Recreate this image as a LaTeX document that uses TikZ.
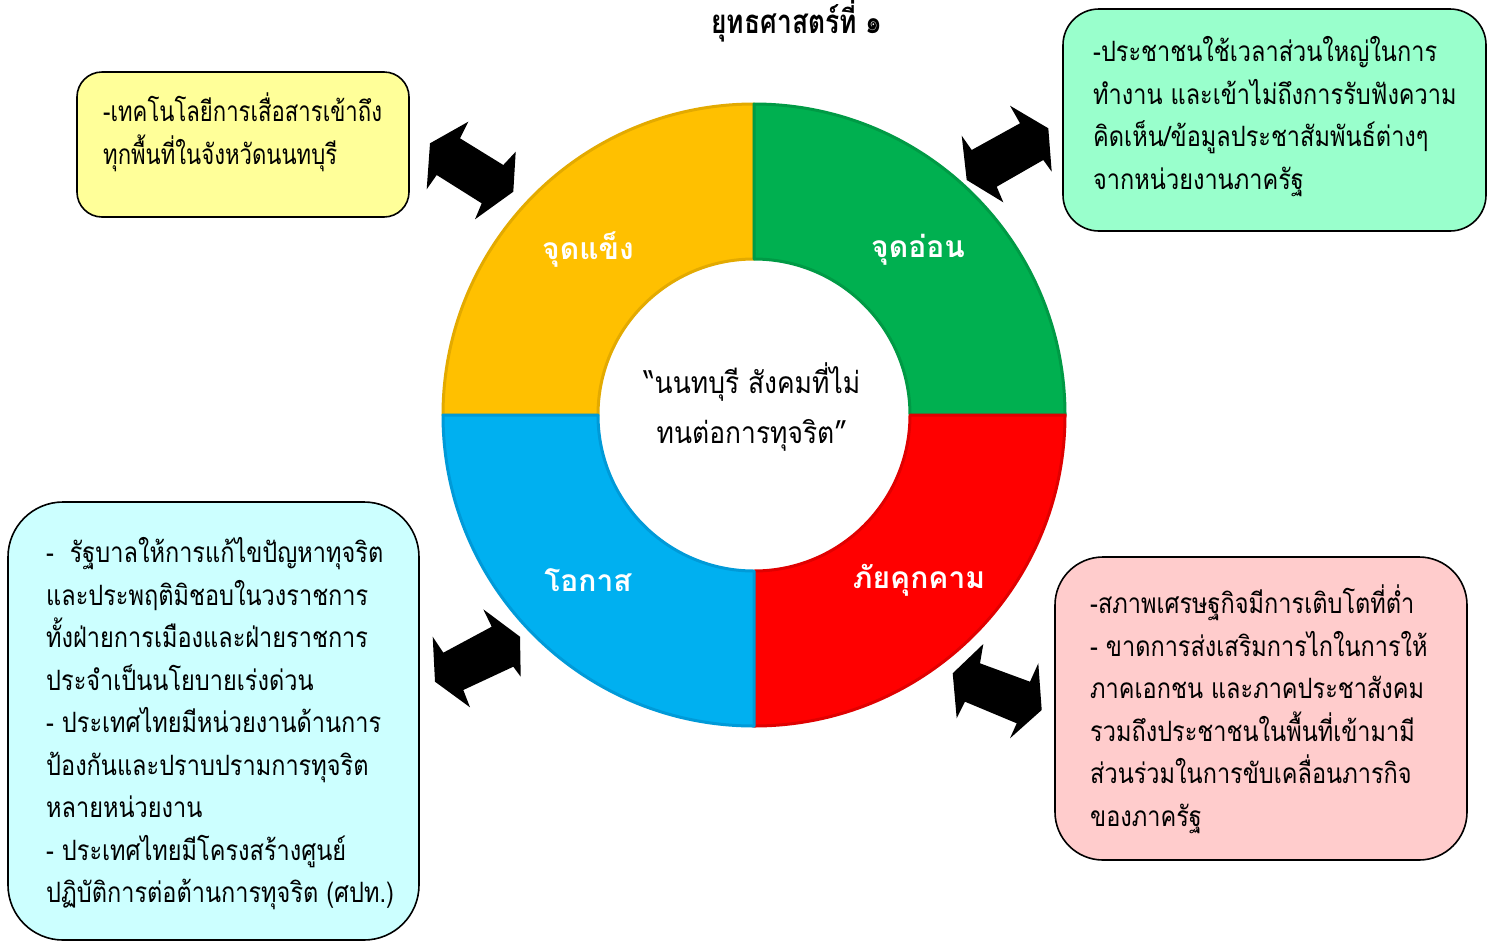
\documentclass[tikz,border=0pt]{standalone}
\usepackage{fontspec}
\newfontfamily\thai[Script=Thai]{Loma}
\newfontfamily\thainarrow[Script=Thai, FakeStretch=0.84]{Loma}
\newfontfamily\thaicond[Script=Thai, FakeStretch=0.79]{Loma}
\newfontfamily\thaictr[Script=Thai, FakeStretch=0.88]{Loma}
\newfontfamily\thaititle[Script=Thai, FakeStretch=0.8]{Loma}
\usetikzlibrary{calc}
\definecolor{segY}{HTML}{FFC000}
\definecolor{segYd}{HTML}{E3AA00}
\definecolor{segG}{HTML}{00B050}
\definecolor{segGd}{HTML}{009A45}
\definecolor{segR}{HTML}{FF0000}
\definecolor{segRd}{HTML}{E00000}
\definecolor{segB}{HTML}{00B0F0}
\definecolor{segBd}{HTML}{009AD8}
\definecolor{boxY}{HTML}{FFFF99}
\definecolor{boxG}{HTML}{99FFCC}
\definecolor{boxC}{HTML}{CCFFFF}
\definecolor{boxP}{HTML}{FFCCCC}
\begin{document}
\begin{tikzpicture}[x=1pt,y=1pt,
  seg/.style={line width=3pt, line join=round},
  blockarrow/.style={fill=black},
  infobox/.style={draw=black, line width=1.6pt, rectangle, inner sep=0pt},
  boxtext/.style={anchor=north west, inner sep=0pt, align=left,
    font=\thainarrow\fontsize{28}{42.5}\selectfont},
  seglabel/.style={text=white, font=\thai\bfseries\fontsize{30}{34}\selectfont},
  centertext/.style={align=center, font=\thaictr\fontsize{30}{50}\selectfont}]
\useasboundingbox (0,0) rectangle (1501,-943);
\fill[white] (0,0) rectangle (1501,-943);

% title
\node[font=\thaititle\bfseries\fontsize{33}{36}\selectfont] (title) at (797,-21) {ยุทธศาสตร์ที่ ๑};

% donut
\coordinate (c) at (754,-415);
\filldraw[seg, fill=segY, draw=segYd] ($(c)+(90:311)$) arc[start angle=90,end angle=180,radius=311]
  -- ($(c)+(180:156)$) arc[start angle=180,end angle=90,radius=156] -- cycle;
\filldraw[seg, fill=segG, draw=segGd] ($(c)+(0:311)$) arc[start angle=0,end angle=90,radius=311]
  -- ($(c)+(90:156)$) arc[start angle=90,end angle=0,radius=156] -- cycle;
\filldraw[seg, fill=segR, draw=segRd] ($(c)+(270:311)$) arc[start angle=270,end angle=360,radius=311]
  -- ($(c)+(0:156)$) arc[start angle=360,end angle=270,radius=156] -- cycle;
\filldraw[seg, fill=segB, draw=segBd] ($(c)+(180:311)$) arc[start angle=180,end angle=270,radius=311]
  -- ($(c)+(270:156)$) arc[start angle=270,end angle=180,radius=156] -- cycle;

\node[seglabel] (s) at (588,-250) {จุดแข็ง};
\node[seglabel] (w) at (918,-250) {จุดอ่อน};
\node[seglabel] (o) at (588,-580) {โอกาส};
\node[seglabel] (t) at (919,-580) {ภัยคุกคาม};
\node[centertext] (vision) at (752,-407) {“นนทบุรี สังคมที่ไม่\\ทนต่อการทุจริต”};

% boxes
\node[infobox, fill=boxY, rounded corners=25pt, minimum width=332pt, minimum height=145pt] (by) at (243,-144.5) {};
\node[infobox, fill=boxG, rounded corners=36pt, minimum width=423pt, minimum height=222pt] (bg) at (1274.5,-120) {};
\node[infobox, fill=boxC, rounded corners=55pt, minimum width=411pt, minimum height=438pt] (bc) at (213.5,-721) {};
\node[infobox, fill=boxP, rounded corners=48pt, minimum width=412pt, minimum height=303pt] (bp) at (1261,-708.5) {};

\node[boxtext, font=\thaicond\fontsize{28}{42.5}\selectfont] (ty) at (103,-92) {\strut-เทคโนโลยีการเสื่อสารเข้าถึง\\ทุกพื้นที่ในจังหวัดนนทบุรี};
\node[boxtext] (tg) at (1093,-32) {\strut-ประชาชนใช้เวลาส่วนใหญ่ในการ\\ทำงาน และเข้าไม่ถึงการรับฟังความ\\คิดเห็น/ข้อมูลประชาสัมพันธ์ต่างๆ\\จากหน่วยงานภาครัฐ};
\node[boxtext] (tc) at (46,-533) {\strut-~~รัฐบาลให้การแก้ไขปัญหาทุจริต\\และประพฤติมิชอบในวงราชการ\\ทั้งฝ่ายการเมืองและฝ่ายราชการ\\ประจำเป็นนโยบายเร่งด่วน\\- ประเทศไทยมีหน่วยงานด้านการ\\ป้องกันและปราบปรามการทุจริต\\หลายหน่วยงาน\\- ประเทศไทยมีโครงสร้างศูนย์\\ปฏิบัติการต่อต้านการทุจริต (ศปท.)};
\node[boxtext] (tp) at (1090,-584) {\strut-สภาพเศรษฐกิจมีการเติบโตที่ต่ำ\\- ขาดการส่งเสริมการไกในการให้\\ภาคเอกชน และภาคประชาสังคม\\รวมถึงประชาชนในพื้นที่เข้ามามี\\ส่วนร่วมในการขับเคลื่อนภารกิจ\\ของภาครัฐ};

% block arrows
\fill[blockarrow] (468.3,-121.7) -- (460,-138.3) -- (503.3,-165) -- (515.7,-151.7) -- (513.3,-191.7)
  -- (475,-219.3) -- (481.7,-203.3) -- (436.7,-175) -- (426.7,-189.3) -- (430,-143.3) -- cycle;
\fill[blockarrow] (1010,-105.7) -- (1020,-123.3) -- (971.7,-150) -- (961.7,-135.7) -- (966.7,-180)
  -- (1003.3,-202.3) -- (996.7,-186.7) -- (1043.3,-160) -- (1051.7,-171.7) -- (1048.3,-128.3) -- cycle;
\fill[blockarrow] (483.3,-609.3) -- (491.7,-626.7) -- (443.3,-652.7) -- (432.7,-636.7) -- (435,-681.7)
  -- (470,-707.3) -- (463.3,-690) -- (513.3,-666.7) -- (520.7,-676.7) -- (520,-636.7) -- cycle;
\fill[blockarrow] (983.3,-644) -- (980,-663.3) -- (1030,-681.7) -- (1038.3,-663.3) -- (1041.7,-710)
  -- (1010,-738.3) -- (1016.7,-723.3) -- (965,-701.7) -- (956.7,-718.3) -- (952.7,-673.3) -- cycle;
\end{tikzpicture}
\end{document}
